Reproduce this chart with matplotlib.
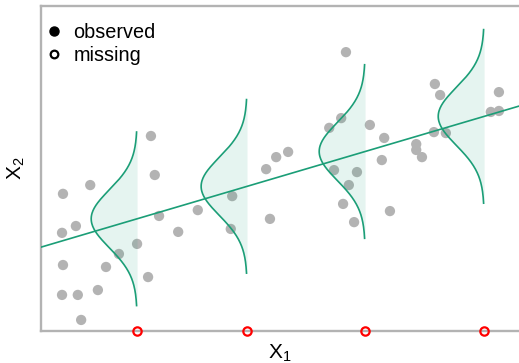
import numpy as np
import matplotlib
matplotlib.use("Agg")
import matplotlib.pyplot as plt
from matplotlib.lines import Line2D

plt.rcParams['font.family'] = ['Liberation Sans', 'DejaVu Sans']
plt.rcParams['mathtext.fontset'] = 'custom'
plt.rcParams['mathtext.rm'] = 'Liberation Sans'
plt.rcParams['mathtext.default'] = 'regular'

# observed points
obs_x = [2.30, 2.38, 1.03, 0.46, 2.47, 3.28, 0.73, 0.44, 2.87, 2.01, 1.63, 0.46,
         1.36, 2.24, 0.44, 0.77, 1.19, 0.84, 4.00, 3.97, 4.71, 4.92, 5.17, 4.79,
         6.28, 6.03, 6.13, 6.61, 6.44, 6.32, 6.55, 6.38, 6.88, 7.18, 7.13, 7.30,
         7.85, 7.85, 7.97, 8.24, 8.35, 9.58, 9.41, 9.58, 8.22, 8.47]
obs_y = [6.00, 4.80, 4.49, 4.22, 3.54, 3.72, 3.23, 3.02, 3.05, 2.68, 2.37, 2.03,
         1.97, 1.66, 1.11, 1.11, 1.26, 0.34, 4.15, 3.14, 4.98, 5.35, 5.51, 3.45,
         6.55, 6.25, 4.95, 4.89, 4.49, 3.91, 3.35, 8.58, 6.34, 5.94, 5.26, 3.69,
         5.75, 5.57, 5.35, 7.60, 7.26, 7.35, 6.74, 6.77, 6.12, 6.09]

# missing x values
miss_x = [2.01, 4.31, 6.78, 9.27]

# regression line
intercept = 2.58
slope = 0.434
sigma = 0.89
dens_width = 0.96

green = '#1b9e77'
grey = '#b3b3b3'

fig = plt.figure(figsize=(5.19, 3.63), dpi=100)
ax = fig.add_axes([41/519, 32/363, 478/519, 325/363])
ax.set_xlim(0, 10)
ax.set_ylim(0, 10)

ax.scatter(obs_x, obs_y, s=55, color=grey, edgecolors='none', zorder=1)

for xm in miss_x:
    mu = intercept + slope*xm
    yy = np.linspace(mu - 3*sigma, mu + 3*sigma, 200)
    dens = np.exp(-0.5*((yy - mu)/sigma)**2)
    xx = xm - dens_width*dens
    ax.fill_betweenx(yy, xx, xm, color=green, alpha=0.11, linewidth=0, zorder=2)
    ax.plot(xx, yy, color=green, lw=1.2, zorder=3)

xl = np.array([0, 10])
ax.plot(xl, intercept + slope*xl, color=green, lw=1.2, zorder=3)

ax.plot(miss_x, [0]*len(miss_x), 'o', ms=6, mfc='none', mec='red', mew=1.6,
        clip_on=False, zorder=5)

for s in ['left', 'bottom', 'top']:
    ax.spines[s].set_color(grey)
    ax.spines[s].set_linewidth(1.7)
ax.spines['right'].set_visible(False)
ax.set_xticks([])
ax.set_yticks([])

ax.set_xlabel('X$_1$', fontsize=15)
ax.set_ylabel('X$_2$', fontsize=15)
ax.xaxis.set_label_coords(0.5, -0.035)
ax.yaxis.set_label_coords(-0.03, 0.5)

handles = [Line2D([], [], ls='none', marker='o', ms=6.5, color='black'),
           Line2D([], [], ls='none', marker='o', ms=5.5, mfc='none', mec='black', mew=1.6)]
ax.legend(handles, ['observed', 'missing'], loc='upper left', frameon=False,
          bbox_to_anchor=(0.003, 0.965), borderaxespad=0,
          fontsize=14.3, handlelength=0.6, handletextpad=0.65, labelspacing=0.18,
          borderpad=0.3)

fig.savefig('out.png', dpi=100)
